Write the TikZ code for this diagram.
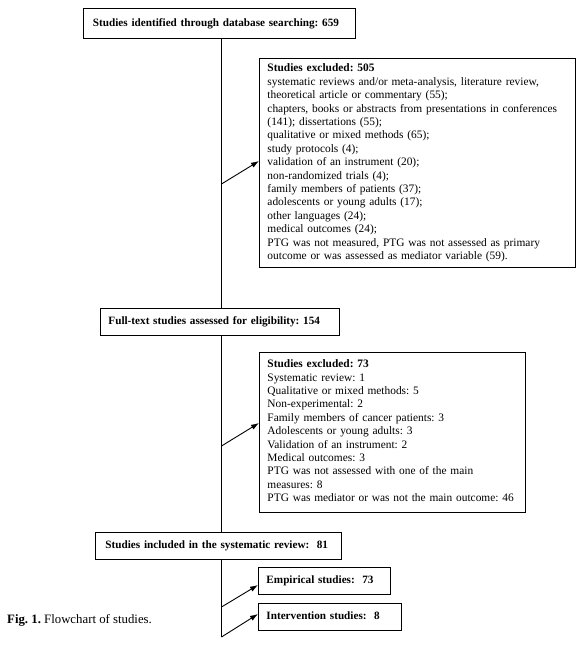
\documentclass[tikz,border=0pt]{standalone}
\usepackage{fontspec}
\setmainfont{Liberation Serif}
\usetikzlibrary{arrows.meta}
\frenchspacing
\newcommand{\lines}[1]{\begin{tabular}{@{}l@{}}#1\end{tabular}}
\tikzset{
  boxtext/.style={font=\fontsize{11.4}{13.4}\selectfont\frenchspacing},
  box/.style={draw, line width=0.9pt, anchor=north west, align=left, inner xsep=8pt, inner ysep=0pt, boxtext},
  hdr/.style={box, font=\fontsize{11.2}{13.4}\selectfont\frenchspacing\bfseries},
  conn/.style={line width=0.9pt},
  arr/.style={conn, -{Latex[length=8pt,width=5.5pt]}},
}
\begin{document}
\begin{tikzpicture}[x=1pt,y=-1pt]
\useasboundingbox (0,0) rectangle (580,652);
\coordinate (spine) at (221.5,0);

\node[hdr, text width=256pt, minimum height=30.5pt] (b1) at (83,8) {\lines{\hspace*{1.5pt}Studies identified through database searching: 659}};

\node[box, text width=300pt, minimum height=209pt] (b2) at (259,58) {\lines{\textbf{Studies excluded: 505}\\
systematic reviews and/or meta-analysis, literature review,\\
theoretical article or commentary (55);\\
chapters, books or abstracts from presentations in conferences\\
(141); dissertations (55);\\
qualitative or mixed methods (65);\\
study protocols (4);\\
validation of an instrument (20);\\
non-randomized trials (4);\\
family members of patients (37);\\
adolescents or young adults (17);\\
other languages (24);\\
medical outcomes (24);\\
PTG was not measured, PTG was not assessed as primary\\
outcome or was assessed as mediator variable (59).}};

\node[hdr, text width=223pt, minimum height=27pt] (b3) at (100,308) {\lines{Full-text studies assessed for eligibility: 154}};

\node[box, text width=250pt, minimum height=160pt] (b4) at (259,351.5) {\lines{\textbf{Studies excluded: 73}\\
Systematic review: 1\\
Qualitative or mixed methods: 5\\
Non-experimental: 2\\
Family members of cancer patients: 3\\
Adolescents or young adults: 3\\
Validation of an instrument: 2\\
Medical outcomes: 3\\
PTG was not assessed with one of the main\\
measures: 8\\
PTG was mediator or was not the main outcome: 46}};

\node[hdr, text width=230pt, minimum height=26.5pt] (b5) at (95,532) {\lines{\hspace*{2pt}Studies included in the systematic review:\ \ 81}};

\node[hdr, text width=116pt, minimum height=26.5pt] (b6) at (258,567) {\lines{Empirical studies:\ \ 73}};

\node[hdr, text width=127pt, minimum height=27pt] (b7) at (258,603) {\lines{Intervention studies:\ \ 8}};

\node[anchor=west, inner sep=0pt, font=\fontsize{12.8}{15}\selectfont] (cap) at (7,620.7) {\textbf{Fig. 1.} Flowchart of studies.};

% spine
\draw[conn] (b1.south -| spine) -- (b3.north -| spine);
\draw[conn] (b3.south -| spine) -- (b5.north -| spine);
\coordinate (e7) at (221.5,637);
\draw[conn] (b5.south -| spine) -- (e7);

% arrows
\coordinate (s2) at (221.5,184);
\coordinate (t2) at (0,161);
\draw[arr] (s2) -- (b2.west |- t2);

\coordinate (s4) at (221.5,446);
\coordinate (t4) at (0,423);
\draw[arr] (s4) -- (b4.west |- t4);

\coordinate (s6) at (221.5,607);
\coordinate (t6) at (0,585);
\draw[arr] (s6) -- (b6.west |- t6);

\coordinate (t7) at (0,614);
\draw[arr] (e7) -- (b7.west |- t7);
\end{tikzpicture}
\end{document}
